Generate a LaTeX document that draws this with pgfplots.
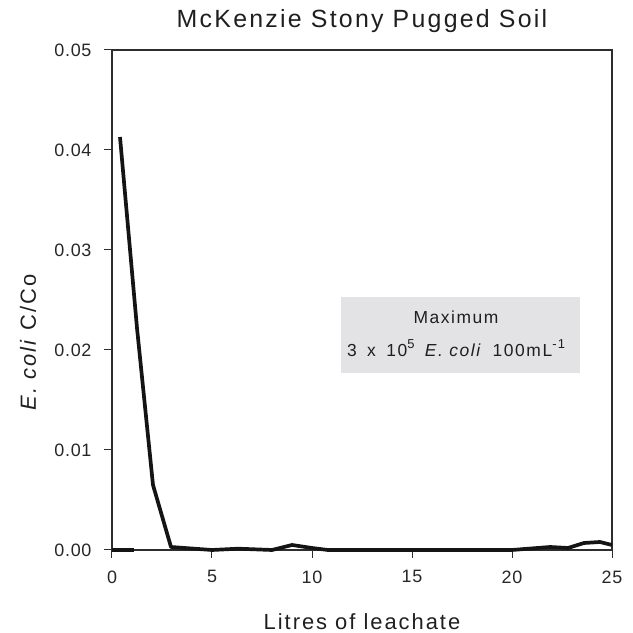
\documentclass[border=0pt]{standalone}
\usepackage{fontspec}
\setmainfont{Liberation Sans}[LetterSpace=9]
\newfontfamily\tickfont{Liberation Sans}[LetterSpace=4]
\usepackage{pgfplots}
\pgfplotsset{compat=1.18}
\definecolor{boxgray}{RGB}{227,227,229}
\definecolor{axgray}{RGB}{45,45,45}
\begin{document}
\begin{tikzpicture}
\begin{axis}[
  name=ax,
  scale only axis, width=500bp, height=500bp,
  xmin=0, xmax=25, ymin=0, ymax=0.05,
  xtick={0,5,10,15,20,25},
  ytick={0,0.01,0.02,0.03,0.04,0.05},
  scaled y ticks=false,
  yticklabel style={/pgf/number format/fixed, /pgf/number format/fixed zerofill, /pgf/number format/precision=2},
  /pgf/number format/assume math mode=true,
  tick align=outside, major tick length=8bp,
  xtick pos=bottom, ytick pos=left,
  tick style={line width=1bp, axgray},
  axis line style={line width=1.3bp, axgray},
  ticklabel style={font=\tickfont\fontsize{18}{21}\selectfont, text=black!85},
  xticklabel style={yshift=-9bp},
  yticklabel style={xshift=-9bp},
  title={McKenzie Stony Pugged Soil},
  title style={font=\fontsize{25}{30}\selectfont, text=black!88, at={(axis description cs:0.5,1.045)}, anchor=center},
  xlabel={Litres of leachate},
  xlabel style={font=\fontsize{22}{26}\selectfont, text=black!88, at={(axis description cs:0.5,-0.143)}, anchor=center},
  ylabel={\textit{E. coli} C/Co},
  ylabel style={font=\fontsize{22}{26}\selectfont, text=black!88, at={(axis description cs:-0.168,0.415)}, anchor=center, rotate=0},
  clip=false,
]
\addplot[line width=3.7bp, color=black!92, line join=round] coordinates {(0,0) (1.1,0)};
\addplot[line width=3.7bp, color=black!92, line join=round] coordinates {
  (0.4,0.0413) (1.25,0.0222) (2.05,0.0065) (2.95,0.0003) (5,0.0) (6.3,0.00013)
  (8,0) (9,0.0005) (10,0.0002) (10.8,0) (12,0) (13,0) (14,0) (15,0) (16,0)
  (17,0) (18,0) (19,0) (20,0) (21.9,0.0003) (22.8,0.0002) (23.6,0.0007)
  (24.4,0.0008) (25,0.0005)};
\node[fill=boxgray, minimum width=239bp, minimum height=76bp, inner sep=0pt]
  at (axis cs:17.425,0.0215) {};
\node[inner sep=0pt, align=center, font=\fontsize{17.5}{33}\selectfont, text=black!88]
  at (axis cs:17.2,0.0216)
  {Maximum\\3\hspace{0.6em}x\hspace{0.6em}10\raisebox{0.45em}{\fontsize{13}{13}\selectfont 5}\hspace{0.6em}\textit{E. coli}\hspace{0.6em}100mL\raisebox{0.45em}{\fontsize{13}{13}\selectfont -1}};
\end{axis}
\pgfresetboundingbox
\path[use as bounding box] ([shift={(-112bp,-83bp)}]ax.south west) rectangle ([shift={(21bp,50bp)}]ax.north east);
\end{tikzpicture}
\end{document}
